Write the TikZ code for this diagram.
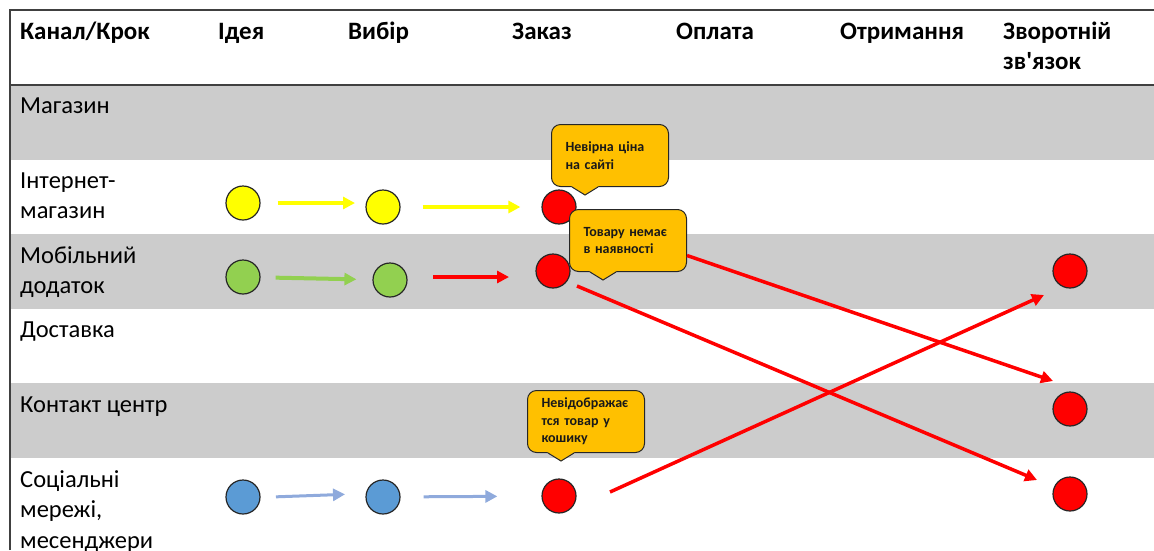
\documentclass[tikz,border=0pt]{standalone}
\usepackage{fontspec}
\setmainfont{Carlito}[Ligatures=TeXOff]
\usetikzlibrary{arrows.meta,calc}
\definecolor{rowgray}{HTML}{CCCCCC}
\definecolor{framec}{HTML}{404040}
\definecolor{cyellow}{HTML}{FFFF00}
\definecolor{cgreen}{HTML}{92D050}
\definecolor{cblue}{HTML}{5B9BD5}
\definecolor{cbluearr}{HTML}{8FAADC}
\definecolor{cred}{HTML}{FF0000}
\definecolor{corange}{HTML}{FFC000}
\definecolor{cborder}{HTML}{262626}
\tikzset{
  hdr/.style={anchor=base west, inner sep=0pt, font=\fontsize{25}{30}\selectfont\bfseries, align=left},
  rowlbl/.style={anchor=base west, inner sep=0pt, font=\fontsize{24.5}{30.5}\selectfont, align=left},
  dot/.style={circle, draw=cborder, line width=1.2pt, minimum size=34pt, inner sep=0pt},
  ydot/.style={dot, fill=cyellow},
  gdot/.style={dot, fill=cgreen},
  bdot/.style={dot, fill=cblue},
  rdot/.style={dot, fill=cred},
  tip/.style={-{Triangle[length=12pt,width=12pt]}},
  yflow/.style={tip, draw=cyellow, line width=4pt},
  gflow/.style={tip, draw=cgreen, line width=4pt},
  bflow/.style={tip, draw=cbluearr, line width=3pt},
  rflow/.style={tip, draw=cred, line width=3.5pt},
  callout/.style={draw=cborder, line width=1pt, fill=corange, rounded corners=9pt,
    minimum width=117pt, minimum height=62pt, text width=89pt, inner xsep=14pt, inner ysep=0pt,
    align=left, anchor=north west, font=\fontsize{14}{17.5}\selectfont\bfseries, text=black!90},
  rowband/.style={fill=rowgray},
  frameline/.style={draw=framec, line width=1.5pt}
}
\newcommand\calloutptr[1]{%
  \fill[corange] ([xshift=20pt,yshift=1.2pt]#1.south west) -- ([xshift=34pt,yshift=-8pt]#1.south west) -- ([xshift=48pt,yshift=1.2pt]#1.south west) -- cycle;
  \draw[cborder, line width=1pt, line join=miter] ([xshift=21pt]#1.south west) -- ([xshift=34pt,yshift=-8pt]#1.south west) -- ([xshift=47pt]#1.south west);}
\begin{document}
\begin{tikzpicture}[x=1pt,y=-1pt]
\useasboundingbox (0,0) rectangle (1154,550);
% row bands
\fill[rowband] (10,85) rectangle (1154,159.5);
\fill[rowband] (10,234) rectangle (1154,308.5);
\fill[rowband] (10,383) rectangle (1154,457.5);
% frame
\draw[frameline] (10,550) -- (10,10) -- (1154,10);
\draw[frameline] (10,85) -- (1154,85);
% header (multi-line nodes: base = last line)
\node[hdr] (h0) at (20,39) {Канал/Крок};
\node[hdr] (h1) at (218,39) {Ідея};
\node[hdr] (h2) at (348,39) {Вибір};
\node[hdr] (h3) at (512,39) {Заказ};
\node[hdr] (h4) at (676,39) {Оплата};
\node[hdr] (h5) at (840,39) {Отримання};
\node[hdr] (h6) at (1003,69) {Зворотній\\зв'язок};
% row labels
\node[rowlbl] (l1) at (20,113) {Магазин};
\node[rowlbl] (l2) at (20,218.5) {Інтернет-\\магазин};
\node[rowlbl] (l3) at (20,293.5) {Мобільний\\додаток};
\node[rowlbl] (l4) at (20,337) {Доставка};
\node[rowlbl] (l5) at (20,412) {Контакт центр};
\node[rowlbl] (l6) at (20,548) {Соціальні\\мережі,\\месенджери};
% circles
\node[ydot] (y1) at (243,203) {};
\node[ydot] (y2) at (383,207) {};
\node[rdot] (r1) at (559,207) {};
\node[gdot] (g1) at (243,277) {};
\node[gdot] (g2) at (390,280) {};
\node[rdot] (r2) at (553,271) {};
\node[bdot] (b1) at (243,497) {};
\node[bdot] (b2) at (383,497) {};
\node[rdot] (r3) at (559,496) {};
\node[rdot] (f1) at (1070,271) {};
\node[rdot] (f2) at (1070,409) {};
\node[rdot] (f3) at (1070,494) {};
% short flows
\draw[yflow, shorten <=17pt, shorten >=28pt] (y1) -- (y1 -| y2);
\draw[yflow, shorten <=22pt, shorten >=21pt] (y2) -- (r1);
\draw[gflow, shorten <=15pt, shorten >=16pt] (g1) -- (g2);
\draw[rflow, shorten <=43pt, shorten >=44pt] ($(g2)+(0,-3)$) -- ($(r2)+(0,6)$);
\draw[bflow, shorten <=33pt, shorten >=38pt] ($(b1)+(0,1)$) -- ($(b2)+(0,-4)$);
\draw[bflow, shorten <=23pt, shorten >=44pt] (b2) -- (r3);
% callouts
\node[callout] (c1) at (551,124) {Невірна ціна\\на сайті};
\calloutptr{c1}
\node[callout] (c2) at (569,209) {Товару немає\\в наявності};
\calloutptr{c2}
\node[callout] (c3) at (527,390) {Невідображає\\тся товар у\\кошику};
\calloutptr{c3}
% long flows
\coordinate (e1) at ($(f2)+(-17,-28)$);
\coordinate (s2) at ($(r2)+(24,15)$);
\coordinate (e2) at ($(f3)+(-33,-14)$);
\coordinate (s3) at ($(r3)+(51,-4)$);
\coordinate (e3) at ($(f1)+(-26,24)$);
\draw[rflow] ([yshift=-15pt]c2.east) -- (e1);
\draw[rflow] (s2) -- (e2);
\draw[rflow] (s3) -- (e3);
\end{tikzpicture}
\end{document}
